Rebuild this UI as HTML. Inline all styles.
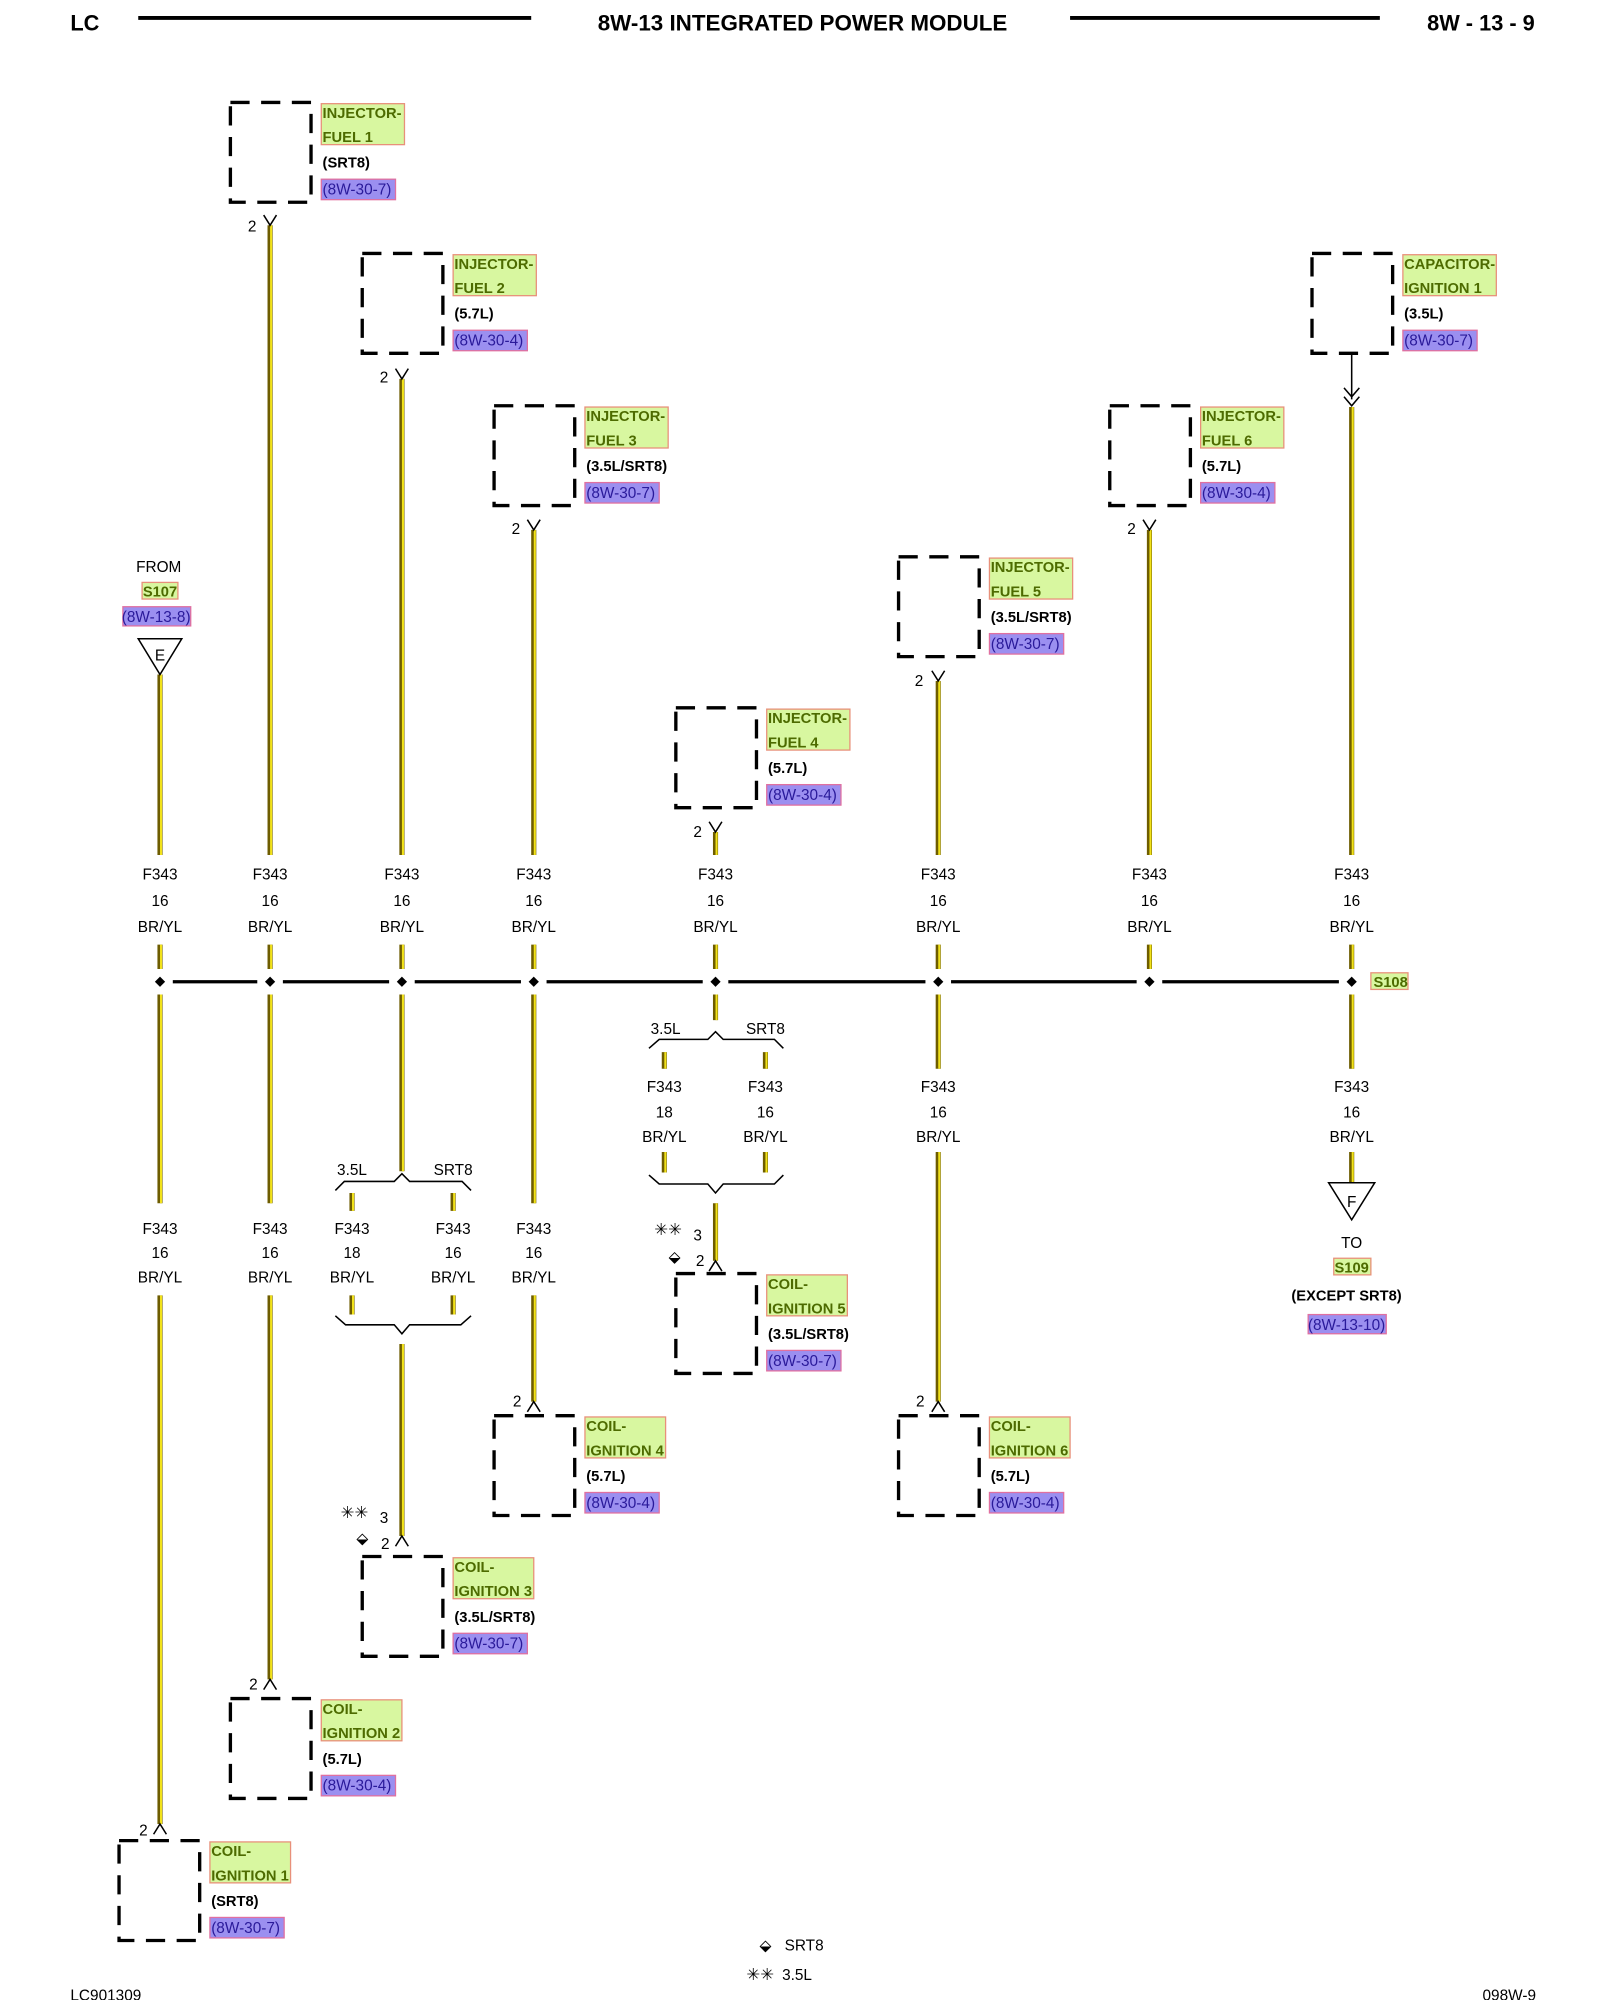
<!DOCTYPE html>
<html><head><meta charset="utf-8"><style>
html,body{margin:0;padding:0;background:#fff}
svg{display:block}
text{font-family:"Liberation Sans",Arial,sans-serif}
.t{font-size:12px;fill:#000;text-anchor:middle}
.g{font-size:11.5px;font-weight:bold;fill:#4d6b00}
.p{font-size:11.5px;font-weight:bold;fill:#000}
.b{font-size:12px;fill:#2a1a9a}
.gr{fill:#d8f7a0;stroke:#e8907a;stroke-width:1}
.br{fill:#9b8ff0;stroke:#e070a0;stroke-width:1}
.box{fill:none;stroke:#000;stroke-width:2.6;stroke-dasharray:15 9}
.k{fill:none;stroke:#000;stroke-width:1.2}
</style></head><body>
<svg width="1600" height="2000" viewBox="0 0 1250 1562.5" xmlns="http://www.w3.org/2000/svg">
<!-- header -->
<text x="55" y="24" style="font-size:17px;font-weight:bold">LC</text>
<line x1="108" y1="14" x2="415" y2="14" stroke="#000" stroke-width="3"/>
<text x="627" y="24" style="font-size:17.5px;font-weight:bold;text-anchor:middle">8W-13 INTEGRATED POWER MODULE</text>
<line x1="836" y1="14" x2="1078" y2="14" stroke="#000" stroke-width="3"/>
<text x="1199" y="24" style="font-size:17px;font-weight:bold;text-anchor:end">8W - 13 - 9</text>

<!-- wires -->
<g fill="none">
<path d="M125 527V668M125 738V757M125 777V940M125 1012V1425
M211 176V668M211 738V757M211 777V940M211 1012V1312
M314 296V668M314 738V757M314 777V915M275 932V946M354 932V946M275 1012V1027M354 1012V1027M314 1050V1200
M417 414V668M417 738V757M417 777V940M417 1012V1095
M559 650V668M559 738V757M559 777V797M519 822V835M598 822V835M519 900V916M598 900V916M559 940V985
M733 532V668M733 738V757M733 777V835M733 900V1095
M898 414V668M898 738V757
M1056 318V668M1056 738V757M1056 777V835M1056 900V924" stroke="#6e5d00" stroke-width="4"/>
<path d="M125 527V668M125 738V757M125 777V940M125 1012V1425
M211 176V668M211 738V757M211 777V940M211 1012V1312
M314 296V668M314 738V757M314 777V915M275 932V946M354 932V946M275 1012V1027M354 1012V1027M314 1050V1200
M417 414V668M417 738V757M417 777V940M417 1012V1095
M559 650V668M559 738V757M559 777V797M519 822V835M598 822V835M519 900V916M598 900V916M559 940V985
M733 532V668M733 738V757M733 777V835M733 900V1095
M898 414V668M898 738V757
M1056 318V668M1056 738V757M1056 777V835M1056 900V924" stroke="#f2e21a" stroke-width="1.6" transform="translate(0.8,0)"/>
</g>

<!-- bus -->
<path d="M135 767H201M221 767H304M324 767H407M427 767H549M569 767H723M743 767H888M908 767H1046" stroke="#000" stroke-width="2.5"/>
<g fill="#000">
<path d="M125 763l4 4-4 4-4-4z"/><path d="M211 763l4 4-4 4-4-4z"/><path d="M314 763l4 4-4 4-4-4z"/><path d="M417 763l4 4-4 4-4-4z"/><path d="M559 763l4 4-4 4-4-4z"/><path d="M733 763l4 4-4 4-4-4z"/><path d="M898 763l4 4-4 4-4-4z"/><path d="M1056 763l4 4-4 4-4-4z"/>
</g>
<rect x="1071" y="760" width="29" height="13" class="gr"/>
<text x="1073" y="771" class="g">S108</text>

<!-- wire labels row -->
<g class="t">
<text x="125" y="687">F343</text><text x="125" y="708">16</text><text x="125" y="728">BR/YL</text>
<text x="211" y="687">F343</text><text x="211" y="708">16</text><text x="211" y="728">BR/YL</text>
<text x="314" y="687">F343</text><text x="314" y="708">16</text><text x="314" y="728">BR/YL</text>
<text x="417" y="687">F343</text><text x="417" y="708">16</text><text x="417" y="728">BR/YL</text>
<text x="559" y="687">F343</text><text x="559" y="708">16</text><text x="559" y="728">BR/YL</text>
<text x="733" y="687">F343</text><text x="733" y="708">16</text><text x="733" y="728">BR/YL</text>
<text x="898" y="687">F343</text><text x="898" y="708">16</text><text x="898" y="728">BR/YL</text>
<text x="1056" y="687">F343</text><text x="1056" y="708">16</text><text x="1056" y="728">BR/YL</text>

<text x="125" y="964">F343</text><text x="125" y="983">16</text><text x="125" y="1002">BR/YL</text>
<text x="211" y="964">F343</text><text x="211" y="983">16</text><text x="211" y="1002">BR/YL</text>
<text x="275" y="964">F343</text><text x="275" y="983">18</text><text x="275" y="1002">BR/YL</text>
<text x="354" y="964">F343</text><text x="354" y="983">16</text><text x="354" y="1002">BR/YL</text>
<text x="417" y="964">F343</text><text x="417" y="983">16</text><text x="417" y="1002">BR/YL</text>
<text x="519" y="853">F343</text><text x="519" y="873">18</text><text x="519" y="892">BR/YL</text>
<text x="598" y="853">F343</text><text x="598" y="873">16</text><text x="598" y="892">BR/YL</text>
<text x="733" y="853">F343</text><text x="733" y="873">16</text><text x="733" y="892">BR/YL</text>
<text x="1056" y="853">F343</text><text x="1056" y="873">16</text><text x="1056" y="892">BR/YL</text>

<text x="275" y="918">3.5L</text><text x="354" y="918">SRT8</text>
<text x="520" y="808">3.5L</text><text x="598" y="808">SRT8</text>
</g>

<!-- braces -->
<path class="k" d="M262 930L269 923H308L314 917L320 923H361L368 930"/>
<path class="k" d="M262 1028L270 1035H308L314 1042L320 1035H360L368 1028"/>
<path class="k" d="M507 819L515 812H553L559 806L565 812H605L612 819"/>
<path class="k" d="M507 918L515 925H553L559 932L565 925H605L612 918"/>

<!-- connectors top (V) -->
<path class="k" d="M206 168L211 176L216 168M309 288L314 296L319 288M412 406L417 414L422 406M554 642L559 650L564 642M728 524L733 532L738 524M893 406L898 414L903 406"/>
<path class="k" d="M1056 276V312M1050 303L1056 310L1062 303M1050 310L1056 317L1062 310"/>
<g class="t" style="text-anchor:middle">
<text x="197" y="181">2</text><text x="300" y="299">2</text><text x="403" y="417">2</text><text x="545" y="654">2</text><text x="718" y="536">2</text><text x="884" y="417">2</text>
</g>
<!-- connectors bottom (^) -->
<path class="k" d="M120 1433L125 1425L130 1433M206 1320L211 1312L216 1320M309 1208L314 1200L319 1208M412 1103L417 1095L422 1103M554 993L559 985L564 993M728 1103L733 1095L738 1103"/>
<g class="t">
<text x="112" y="1434">2</text><text x="198" y="1320">2</text><text x="301" y="1210">2</text><text x="404" y="1099">2</text><text x="547" y="989">2</text><text x="719" y="1099">2</text>
<text x="300" y="1190">3</text><text x="545" y="969">3</text>
<text x="277" y="1186" style="font-size:13px">✳✳</text><text x="522" y="965" style="font-size:13px">✳✳</text>
<text x="283" y="1206" style="font-size:12px">⬙</text><text x="527" y="986" style="font-size:12px">⬙</text>
</g>

<!-- FROM S107 -->
<g class="t">
<text x="124" y="447">FROM</text>
<text x="1056" y="975">TO</text>
</g>
<rect x="111" y="455" width="28" height="13" class="gr"/><text x="125" y="466" class="g" style="text-anchor:middle">S107</text>
<rect x="96" y="474" width="53" height="15" class="br"/><text x="122" y="486" class="b" style="text-anchor:middle">(8W-13-8)</text>
<path d="M108 499H142L125 527Z" fill="#fff" stroke="#000" stroke-width="1.2"/>
<text x="125" y="516" class="t">E</text>
<path d="M1038 924H1074L1056 953Z" fill="#fff" stroke="#000" stroke-width="1.2"/>
<text x="1056" y="943" class="t">F</text>
<rect x="1042" y="983" width="29" height="13" class="gr"/><text x="1056" y="994" class="g" style="text-anchor:middle">S109</text>
<text x="1052" y="1016" class="p" style="text-anchor:middle">(EXCEPT SRT8)</text>
<rect x="1022" y="1027" width="61" height="15" class="br"/><text x="1052" y="1039" class="b" style="text-anchor:middle">(8W-13-10)</text>

<g>
<rect x="180" y="80" width="63" height="78" class="box"/>
<rect x="251" y="81" width="65" height="32" class="gr"/><text x="252" y="92" class="g">INJECTOR-</text><text x="252" y="111" class="g">FUEL 1</text>
<text x="252" y="131" class="p">(SRT8)</text>
<rect x="251" y="140" width="58" height="16" class="br"/><text x="252" y="152" class="b">(8W-30-7)</text>

<rect x="283" y="198" width="63" height="78" class="box"/>
<rect x="354" y="199" width="65" height="32" class="gr"/><text x="355" y="210" class="g">INJECTOR-</text><text x="355" y="229" class="g">FUEL 2</text>
<text x="355" y="249" class="p">(5.7L)</text>
<rect x="354" y="258" width="58" height="16" class="br"/><text x="355" y="270" class="b">(8W-30-4)</text>

<rect x="386" y="317" width="63" height="78" class="box"/>
<rect x="457" y="318" width="65" height="32" class="gr"/><text x="458" y="329" class="g">INJECTOR-</text><text x="458" y="348" class="g">FUEL 3</text>
<text x="458" y="368" class="p">(3.5L/SRT8)</text>
<rect x="457" y="377" width="58" height="16" class="br"/><text x="458" y="389" class="b">(8W-30-7)</text>

<rect x="528" y="553" width="63" height="78" class="box"/>
<rect x="599" y="554" width="65" height="32" class="gr"/><text x="600" y="565" class="g">INJECTOR-</text><text x="600" y="584" class="g">FUEL 4</text>
<text x="600" y="604" class="p">(5.7L)</text>
<rect x="599" y="613" width="58" height="16" class="br"/><text x="600" y="625" class="b">(8W-30-4)</text>

<rect x="702" y="435" width="63" height="78" class="box"/>
<rect x="773" y="436" width="65" height="32" class="gr"/><text x="774" y="447" class="g">INJECTOR-</text><text x="774" y="466" class="g">FUEL 5</text>
<text x="774" y="486" class="p">(3.5L/SRT8)</text>
<rect x="773" y="495" width="58" height="16" class="br"/><text x="774" y="507" class="b">(8W-30-7)</text>

<rect x="867" y="317" width="63" height="78" class="box"/>
<rect x="938" y="318" width="65" height="32" class="gr"/><text x="939" y="329" class="g">INJECTOR-</text><text x="939" y="348" class="g">FUEL 6</text>
<text x="939" y="368" class="p">(5.7L)</text>
<rect x="938" y="377" width="58" height="16" class="br"/><text x="939" y="389" class="b">(8W-30-4)</text>

<rect x="1025" y="198" width="63" height="78" class="box"/>
<rect x="1096" y="199" width="73" height="32" class="gr"/><text x="1097" y="210" class="g">CAPACITOR-</text><text x="1097" y="229" class="g">IGNITION 1</text>
<text x="1097" y="249" class="p">(3.5L)</text>
<rect x="1096" y="258" width="58" height="16" class="br"/><text x="1097" y="270" class="b">(8W-30-7)</text>

<rect x="528" y="995" width="63" height="78" class="box"/>
<rect x="599" y="996" width="63" height="32" class="gr"/><text x="600" y="1007" class="g">COIL-</text><text x="600" y="1026" class="g">IGNITION 5</text>
<text x="600" y="1046" class="p">(3.5L/SRT8)</text>
<rect x="599" y="1055" width="58" height="16" class="br"/><text x="600" y="1067" class="b">(8W-30-7)</text>

<rect x="386" y="1106" width="63" height="78" class="box"/>
<rect x="457" y="1107" width="63" height="32" class="gr"/><text x="458" y="1118" class="g">COIL-</text><text x="458" y="1137" class="g">IGNITION 4</text>
<text x="458" y="1157" class="p">(5.7L)</text>
<rect x="457" y="1166" width="58" height="16" class="br"/><text x="458" y="1178" class="b">(8W-30-4)</text>

<rect x="702" y="1106" width="63" height="78" class="box"/>
<rect x="773" y="1107" width="63" height="32" class="gr"/><text x="774" y="1118" class="g">COIL-</text><text x="774" y="1137" class="g">IGNITION 6</text>
<text x="774" y="1157" class="p">(5.7L)</text>
<rect x="773" y="1166" width="58" height="16" class="br"/><text x="774" y="1178" class="b">(8W-30-4)</text>

<rect x="283" y="1216" width="63" height="78" class="box"/>
<rect x="354" y="1217" width="63" height="32" class="gr"/><text x="355" y="1228" class="g">COIL-</text><text x="355" y="1247" class="g">IGNITION 3</text>
<text x="355" y="1267" class="p">(3.5L/SRT8)</text>
<rect x="354" y="1276" width="58" height="16" class="br"/><text x="355" y="1288" class="b">(8W-30-7)</text>

<rect x="180" y="1327" width="63" height="78" class="box"/>
<rect x="251" y="1328" width="63" height="32" class="gr"/><text x="252" y="1339" class="g">COIL-</text><text x="252" y="1358" class="g">IGNITION 2</text>
<text x="252" y="1378" class="p">(5.7L)</text>
<rect x="251" y="1387" width="58" height="16" class="br"/><text x="252" y="1399" class="b">(8W-30-4)</text>

<rect x="93" y="1438" width="63" height="78" class="box"/>
<rect x="164" y="1439" width="63" height="32" class="gr"/><text x="165" y="1450" class="g">COIL-</text><text x="165" y="1469" class="g">IGNITION 1</text>
<text x="165" y="1489" class="p">(SRT8)</text>
<rect x="164" y="1498" width="58" height="16" class="br"/><text x="165" y="1510" class="b">(8W-30-7)</text>
</g>

<!-- legend & footer -->
<text x="598" y="1524" class="t" style="font-size:12px">⬙</text>
<text x="613" y="1524" style="font-size:12px">SRT8</text>
<text x="594" y="1547" class="t" style="font-size:13px">✳✳</text>
<text x="611" y="1547" style="font-size:12px">3.5L</text>
<text x="55" y="1563" style="font-size:12px">LC901309</text>
<text x="1200" y="1563" style="font-size:12px;text-anchor:end">098W-9</text>
</svg>
</body></html>
